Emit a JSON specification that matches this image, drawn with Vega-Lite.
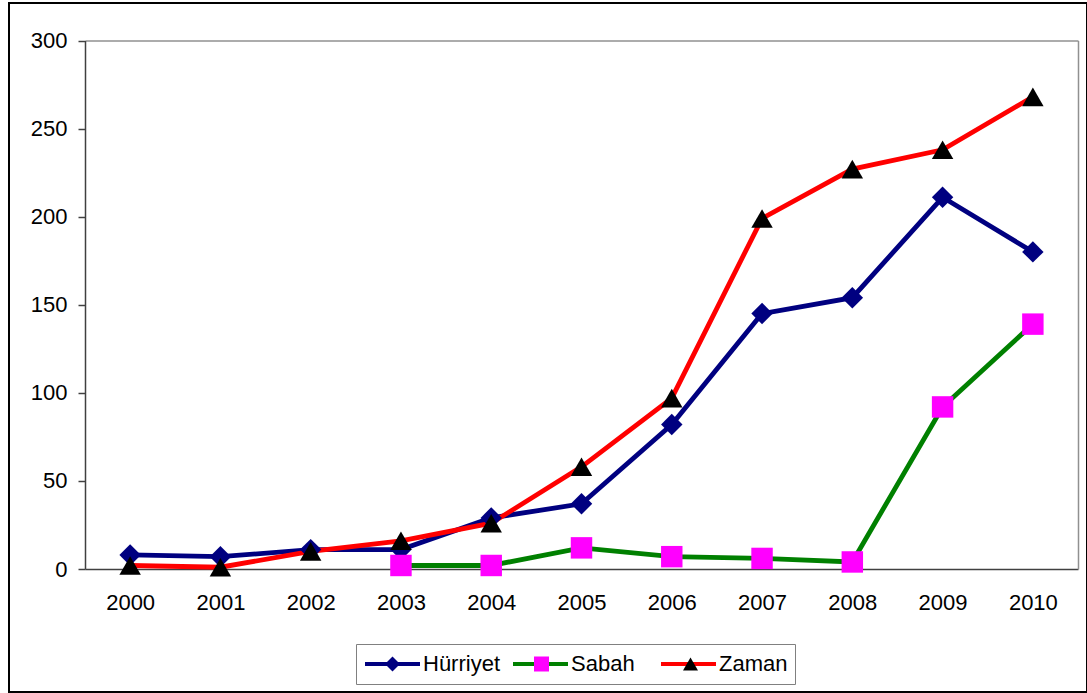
{
  "$schema": "https://vega.github.io/schema/vega-lite/v6.json",
  "width": 1078,
  "height": 689,
  "autosize": {"type": "none"},
  "padding": {"left": 9, "top": 3, "right": 0, "bottom": 1},
  "background": "white",
  "config": {
    "font": "Liberation Sans",
    "view": {"stroke": "#000000", "strokeWidth": 2},
    "axis": {"labelFont": "Liberation Sans", "labelFontSize": 22, "labelColor": "#000000", "domainColor": "#404040", "domainWidth": 1.5, "tickColor": "#404040", "tickWidth": 1.5, "grid": false, "title": null, "labelFlush": false, "labelOverlap": false}
  },
  "data": {
    "values": [
      {"year": 2000, "series": "Hürriyet", "value": 8},
      {"year": 2001, "series": "Hürriyet", "value": 7},
      {"year": 2002, "series": "Hürriyet", "value": 11},
      {"year": 2003, "series": "Hürriyet", "value": 11},
      {"year": 2004, "series": "Hürriyet", "value": 29},
      {"year": 2005, "series": "Hürriyet", "value": 37},
      {"year": 2006, "series": "Hürriyet", "value": 82},
      {"year": 2007, "series": "Hürriyet", "value": 145},
      {"year": 2008, "series": "Hürriyet", "value": 154},
      {"year": 2009, "series": "Hürriyet", "value": 211},
      {"year": 2010, "series": "Hürriyet", "value": 180},
      {"year": 2003, "series": "Sabah", "value": 2},
      {"year": 2004, "series": "Sabah", "value": 2},
      {"year": 2005, "series": "Sabah", "value": 12},
      {"year": 2006, "series": "Sabah", "value": 7},
      {"year": 2007, "series": "Sabah", "value": 6},
      {"year": 2008, "series": "Sabah", "value": 4},
      {"year": 2009, "series": "Sabah", "value": 92},
      {"year": 2010, "series": "Sabah", "value": 139},
      {"year": 2000, "series": "Zaman", "value": 2},
      {"year": 2001, "series": "Zaman", "value": 1},
      {"year": 2002, "series": "Zaman", "value": 10},
      {"year": 2003, "series": "Zaman", "value": 16},
      {"year": 2004, "series": "Zaman", "value": 26},
      {"year": 2005, "series": "Zaman", "value": 58},
      {"year": 2006, "series": "Zaman", "value": 97},
      {"year": 2007, "series": "Zaman", "value": 199},
      {"year": 2008, "series": "Zaman", "value": 227},
      {"year": 2009, "series": "Zaman", "value": 238},
      {"year": 2010, "series": "Zaman", "value": 268}
    ]
  },
  "resolve": {"axis": {"x": "independent", "y": "independent"}},
  "layer": [
    {
      "mark": {"type": "line", "strokeWidth": 4.8},
      "encoding": {
        "x": {"field": "year", "type": "quantitative", "scale": {"domain": [1999.5, 2010.5], "range": [76, 1069], "nice": false, "zero": false},
              "axis": {"orient": "bottom", "values": [2000, 2001, 2002, 2003, 2004, 2005, 2006, 2007, 2008, 2009, 2010], "format": "d", "ticks": false, "tickSize": 0, "labelPadding": 23, "offset": -123}},
        "y": {"field": "value", "type": "quantitative", "scale": {"domain": [0, 300], "range": [566, 37.5], "nice": false, "zero": true},
              "axis": {"orient": "left", "values": [0, 50, 100, 150, 200, 250, 300], "tickSize": 7, "labelPadding": 11, "offset": -76}},
        "stroke": {
          "field": "series", "type": "nominal",
          "scale": {"domain": ["Hürriyet", "Sabah", "Zaman"], "range": ["#000080", "#008000", "#FF0000"]},
          "legend": {"orient": "none", "legendX": 347, "legendY": 641, "direction": "horizontal", "gridAlign": "all", "title": null, "symbolType": "stroke", "symbolSize": 3025, "symbolStrokeWidth": 4, "labelFont": "Liberation Sans", "labelFontSize": 22, "labelColor": "#000000", "labelOffset": 1, "columnPadding": 10, "padding": 7, "strokeColor": "#808080", "clipHeight": 26}
        }
      }
    },
    {
      "mark": {"type": "point", "filled": true, "opacity": 1, "size": 460, "strokeWidth": 0},
      "encoding": {
        "x": {"field": "year", "type": "quantitative",
              "axis": {"orient": "top", "labels": false, "ticks": false, "domainColor": "#909090", "offset": -37.5}},
        "y": {"field": "value", "type": "quantitative",
              "axis": {"orient": "right", "labels": false, "ticks": false, "domainColor": "#909090", "offset": -9}},
        "shape": {
          "field": "series", "type": "nominal",
          "scale": {"range": ["diamond", "square", "triangle-up"]},
          "legend": {"orient": "none", "legendX": 365.5, "legendY": 641, "direction": "horizontal", "gridAlign": "all", "title": null, "symbolSize": 225, "symbolStrokeWidth": 0, "symbolOpacity": 1, "labelFontSize": 22, "labelExpr": "''", "labelOffset": 0, "columnPadding": 127, "padding": 7, "clipHeight": 26}
        },
        "fill": {
          "field": "series", "type": "nominal",
          "scale": {"range": ["#000080", "#FF00FF", "#000000"]},
          "legend": {"orient": "none", "legendX": 365.5, "legendY": 641, "direction": "horizontal", "gridAlign": "all", "title": null, "symbolSize": 225, "symbolStrokeWidth": 0, "symbolOpacity": 1, "labelFontSize": 22, "labelExpr": "''", "labelOffset": 0, "columnPadding": 127, "padding": 7, "clipHeight": 26}
        }
      }
    }
  ]
}
